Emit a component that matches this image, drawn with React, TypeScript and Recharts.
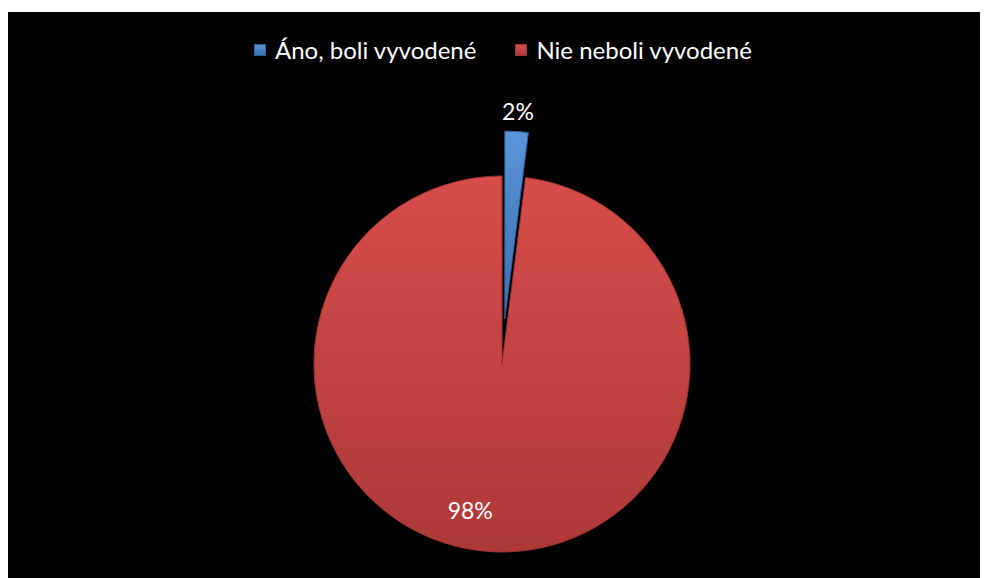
import { PieChart, Pie, Cell, Legend } from "recharts"

const categories = ["Áno, boli vyvodené", "Nie neboli vyvodené"]
const shares = [2, 98]
const topColors = ["#5a94d8", "#d64d4a"]
const bottomColors = ["#3c6fae", "#ad3937"]
const edgeColors = ["#2f5d96", "#9a3331"]

const data = categories.map((name, i) => ({ name, value: shares[i] }))

const W = 980
const H = 566
const CX = 494
const CY = 352
const R = 188
const EXPLODE = 45

const total = shares.reduce((a, b) => a + b, 0)
const blueMid = ((90 - (360 * shares[0]) / total / 2) * Math.PI) / 180
const CX2 = CX + EXPLODE * Math.cos(blueMid)
const CY2 = CY - EXPLODE * Math.sin(blueMid)

const font = "Lato, 'Open Sans', sans-serif"

function makeLabel(show: number) {
  return (props: any) => {
    const { cx, cy, midAngle, outerRadius, index, value } = props
    if (index !== show) return null
    const rad = (midAngle * Math.PI) / 180
    const r = index === 0 ? outerRadius + 21 : outerRadius * 0.78
    const x = cx + r * Math.cos(rad)
    const y = cy - r * Math.sin(rad)
    return (
      <text
        x={x}
        y={y}
        fill="#ffffff"
        fontFamily={font}
        fontSize={23}
        textAnchor={index === 0 ? "middle" : "end"}
        dominantBaseline="central"
      >
        {value}%
      </text>
    )
  }
}

function LegendContent() {
  return (
    <div style={{ display: "flex", alignItems: "center", fontFamily: font, fontSize: 24, lineHeight: "28px", color: "#ffffff" }}>
      {categories.map((c, i) => (
        <div key={c} style={{ display: "flex", alignItems: "center", marginRight: i === 0 ? 39 : 0 }}>
          <span
            style={{
              display: "inline-block",
              width: 12,
              height: 12,
              marginRight: 9,
              background: `linear-gradient(${topColors[i]}, ${bottomColors[i]})`,
              boxShadow: `inset 0 0 0 1px ${edgeColors[i]}`,
            }}
          />
          <span style={{ whiteSpace: "nowrap" }}>{c}</span>
        </div>
      ))}
    </div>
  )
}

export default function App() {
  return (
    <div style={{ width: W, height: H, marginTop: 4, background: "#000000" }}>
      <PieChart width={W} height={H} margin={{ top: 0, right: 0, bottom: 0, left: 0 }}>
        <defs>
          {categories.map((c, i) => (
            <linearGradient key={c} id={`grad${i}`} x1="0" y1="0" x2="0" y2="1">
              <stop offset="0%" stopColor={topColors[i]} />
              <stop offset="100%" stopColor={bottomColors[i]} />
            </linearGradient>
          ))}
        </defs>
        <Legend
          content={<LegendContent />}
          wrapperStyle={{ position: "absolute", top: 24, left: 246, width: "auto" }}
        />
        <Pie
          data={data}
          dataKey="value"
          nameKey="name"
          cx={CX}
          cy={CY}
          outerRadius={R}
          startAngle={90}
          endAngle={-270}
          isAnimationActive={false}
          labelLine={false}
          label={makeLabel(1)}
        >
          {data.map((d, i) => (
            <Cell
              key={d.name}
              fill={i === 1 ? "url(#grad1)" : "none"}
              stroke={i === 1 ? edgeColors[1] : "none"}
              strokeWidth={1}
            />
          ))}
        </Pie>
        <Pie
          data={data}
          dataKey="value"
          nameKey="name"
          cx={CX2}
          cy={CY2}
          outerRadius={R}
          startAngle={90}
          endAngle={-270}
          isAnimationActive={false}
          labelLine={false}
          label={makeLabel(0)}
        >
          {data.map((d, i) => (
            <Cell
              key={d.name}
              fill={i === 0 ? "url(#grad0)" : "none"}
              stroke={i === 0 ? edgeColors[0] : "none"}
              strokeWidth={1}
            />
          ))}
        </Pie>
      </PieChart>
    </div>
  )
}
